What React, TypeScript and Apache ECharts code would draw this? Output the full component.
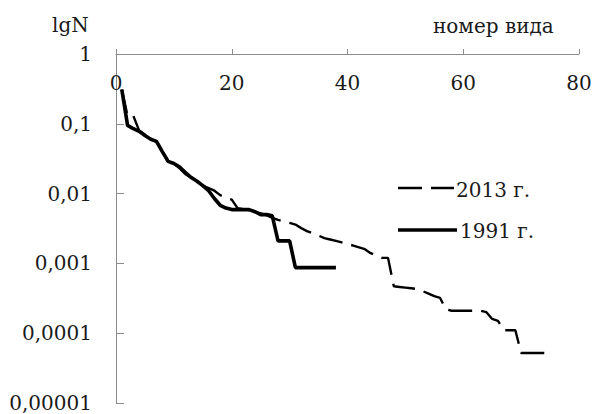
import React, { useEffect, useRef } from "react";
import * as echarts from "echarts";

const yTickLabels = ["1", "0,1", "0,01", "0,001", "0,0001", "0,00001"];
const xTicks = [0, 20, 40, 60, 80];

const values2013 = [
  0.31, 0.13, 0.13, 0.08, 0.07, 0.06, 0.055, 0.04, 0.03, 0.027,
  0.023, 0.019, 0.017, 0.015, 0.013, 0.012, 0.011, 0.0095, 0.0088, 0.0082,
  0.0062, 0.006, 0.0058, 0.0055, 0.0052, 0.0049, 0.0045, 0.0042, 0.004, 0.0038,
  0.0036, 0.0032, 0.0029, 0.0027, 0.0025, 0.0023, 0.0022, 0.0021, 0.002, 0.0019,
  0.0018, 0.0017, 0.0016, 0.0014, 0.0013, 0.0012, 0.0012, 0.00047, 0.00046, 0.00045,
  0.00044, 0.00043, 0.0004, 0.00037, 0.00034, 0.00032, 0.00022, 0.00021, 0.00021, 0.00021,
  0.00021, 0.00021, 0.00021, 0.0002, 0.00016, 0.00015, 0.00011, 0.00011, 0.00011, 0.000052,
  0.000052, 0.000052, 0.000052, 0.000052,
];

const values1991 = [
  0.31, 0.095, 0.085, 0.078, 0.068, 0.06, 0.056, 0.04, 0.029, 0.027,
  0.024, 0.02, 0.017, 0.015, 0.013, 0.011, 0.0085, 0.0068, 0.0062, 0.0059,
  0.0059, 0.0059, 0.0059, 0.0055, 0.005, 0.005, 0.0048, 0.0021, 0.0021, 0.0021,
  0.00087, 0.00087, 0.00087, 0.00087, 0.00087, 0.00087, 0.00087, 0.00087,
];

const seriesNames = ["2013 г.", "1991 г."];

const FONT = "DejaVu Serif";
const FS = 20;
const TXT = "#1a1a1a";

export default function App() {
  const ref = useRef<HTMLDivElement>(null);
  useEffect(() => {
    if (!ref.current) return;
    const chart = echarts.init(ref.current, undefined, { renderer: "svg" });
    const toPairs = (arr: number[]) => arr.map((v, i) => [i + 1, v]);
    chart.setOption({
      animation: false,
      backgroundColor: "#ffffff",
      textStyle: { fontFamily: FONT },
      grid: { left: 116, right: 17, top: 54, bottom: 11 },
      xAxis: {
        type: "value",
        position: "top",
        min: 0,
        max: 80,
        interval: 20,
        axisLine: { lineStyle: { color: "#8c8c8c", width: 1 } },
        axisTick: { show: true, inside: false, length: 5, lineStyle: { color: "#8c8c8c" } },
        axisLabel: {
          inside: true,
          margin: 19,
          fontSize: FS,
          color: TXT,
          fontFamily: FONT,
          formatter: (v: number) => (xTicks.includes(v) ? String(v) : ""),
        },
        splitLine: { show: false },
      },
      yAxis: {
        type: "log",
        logBase: 10,
        min: 0.00001,
        max: 1,
        axisLine: { show: true, lineStyle: { color: "#8c8c8c", width: 1 } },
        axisTick: { show: true, inside: true, length: 8, lineStyle: { color: "#8c8c8c" } },
        axisLabel: {
          margin: 24,
          fontSize: FS,
          color: TXT,
          fontFamily: FONT,
          formatter: (v: number) => {
            const e = Math.round(-Math.log10(v));
            return yTickLabels[e] ?? "";
          },
        },
        splitLine: { show: false },
      },
      series: [
        {
          name: seriesNames[0],
          type: "line",
          data: toPairs(values2013),
          showSymbol: false,
          symbol: "none",
          lineStyle: { color: "#000", width: 2.4, type: [24, 9] },
        },
        {
          name: seriesNames[1],
          type: "line",
          data: toPairs(values1991),
          showSymbol: false,
          symbol: "none",
          lineStyle: { color: "#000", width: 3.6 },
        },
      ],
      graphic: [
        {
          type: "text",
          left: 52,
          top: 15,
          style: { text: "lgN", fontSize: FS, fill: TXT, fontFamily: FONT },
        },
        {
          type: "text",
          left: 433,
          top: 16,
          style: { text: "номер вида", fontSize: FS, fill: TXT, fontFamily: FONT },
        },
        {
          type: "line",
          shape: { x1: 398, y1: 188, x2: 454, y2: 188 },
          style: { stroke: "#000", lineWidth: 2.4, lineDash: [24, 9] },
        },
        {
          type: "text",
          left: 456,
          top: 180,
          style: { text: seriesNames[0], fontSize: FS, fill: TXT, fontFamily: FONT },
        },
        {
          type: "line",
          shape: { x1: 398, y1: 230, x2: 457, y2: 230 },
          style: { stroke: "#000", lineWidth: 3.6 },
        },
        {
          type: "text",
          left: 460,
          top: 221,
          style: { text: seriesNames[1], fontSize: FS, fill: TXT, fontFamily: FONT },
        },
      ],
    });
    return () => chart.dispose();
  }, []);
  return (
    <div
      ref={ref}
      style={{ position: "fixed", left: 0, top: 0, width: 596, height: 414, background: "#fff" }}
    />
  );
}
